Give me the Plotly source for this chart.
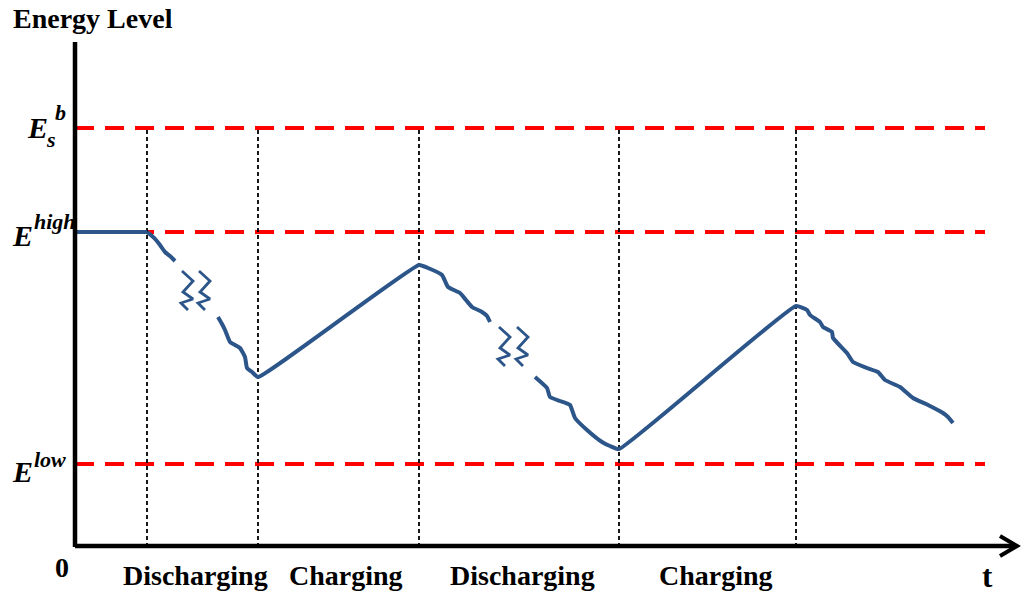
import plotly.graph_objects as go

# ---- data (abstract units: t along x, energy along y) ----
E_LOW, E_HIGH, E_SB = 83, 315, 419
levels = [E_SB, E_HIGH, E_LOW]
phase_bounds = [72, 183, 344, 544, 721]
phase_labels = ["Discharging", "Charging", "Discharging", "Charging"]
phase_label_t = [120, 271, 447, 641]

# energy trajectory, split where the broken-axis marks interrupt it
flat_t = [0, 72]
flat_e = [315, 315]
seg1_t = [72, 77, 81, 85, 90, 95, 100]
seg1_e = [315, 311, 307, 302, 295, 291, 286]
seg2_t = [143, 147, 150, 155, 160, 165, 170, 172, 177, 183, 344, 353, 367, 373, 385, 391, 397, 407, 412, 415]
seg2_e = [230, 223, 217, 205, 202, 199, 190, 179, 175, 170, 282, 279, 272, 260, 254, 247, 240, 235, 231, 225]
seg3_t = [460, 472, 475, 485, 495, 500, 512, 527, 535, 544, 721, 732, 735, 745, 748, 757, 758, 772, 778, 792,
          803, 810, 825, 838, 853, 868, 873, 878]
seg3_e = [170, 159, 150, 146, 142, 129, 117, 105, 101, 98, 241, 237, 232, 225, 220, 215, 209, 194, 185, 179,
          175, 167, 160, 149, 142, 134, 130, 124]

# break-mark zigzag template and where the marks sit
zig_dt = [0, 11, 1, 11, -1, 6]
zig_de = [0, -10, -21, -28, -32, -39]
break_t = [107, 124, 424, 442]
break_e = [276, 276, 220, 220]

# axis extents
T_MAX_AXIS = 940
E_MAX_AXIS = 505
LEVEL_T_END = 910

BLUE = "#2C5589"
RED = "#FF0000"
FONT = "Liberation Serif"

fig = go.Figure()

def line(x, y, color, width, dash="solid", shape="linear"):
    fig.add_trace(go.Scatter(x=x, y=y, mode="lines", hoverinfo="skip", showlegend=False,
                             line=dict(color=color, width=width, dash=dash, shape=shape,
                                       smoothing=0.4 if shape == "spline" else None)))

# red dashed levels
for lv in levels:
    line([0, LEVEL_T_END], [lv, lv], RED, 4, "19px,11px")

# black dotted phase boundaries
for b in phase_bounds:
    line([b, b], [0, E_SB], "black", 1.8, "4px,3px")

# energy trajectory
line(flat_t, flat_e, BLUE, 4)
for tt, ee in [(seg1_t, seg1_e), (seg2_t, seg2_e), (seg3_t, seg3_e)]:
    line(tt, ee, BLUE, 4, shape="spline")

# zigzag break marks
for bt, be in zip(break_t, break_e):
    line([bt + d for d in zig_dt], [be + d for d in zig_de], BLUE, 2.8)

# axes
line([0, 0], [0, E_MAX_AXIS], "black", 4.5)
line([0, T_MAX_AXIS], [1, 1], "black", 4.5)
line([T_MAX_AXIS - 15, T_MAX_AXIS + 2, T_MAX_AXIS - 15], [11, 1, -9], "black", 4)

ann = []
def text(x, y, s, size, xanchor="center", yanchor="middle", italic=False):
    s = f"<b>{s}</b>"
    if italic:
        s = f"<i>{s}</i>"
    ann.append(dict(x=x, y=y, xref="x", yref="y", text=s, showarrow=False,
                    xanchor=xanchor, yanchor=yanchor,
                    font=dict(family=FONT, size=size, color="black")))

text(-64, 529, "Energy Level", 28, xanchor="left")
for lbl, tx in zip(phase_labels, phase_label_t):
    text(tx, -28, lbl, 28)
text(-13, -20, "0", 28)
text(912, -29, "t", 31)

# level labels
text(-38, 420, "E", 30, italic=True)
text(-24, 408, "s", 22, italic=True)
text(-15, 435, "b", 22, italic=True)
text(-53, 312, "E", 30, italic=True)
text(-43, 326, "high", 22, xanchor="left", italic=True)
text(-53, 76, "E", 30, italic=True)
text(-43, 88, "low", 22, xanchor="left", italic=True)

fig.update_layout(
    width=1024, height=602,
    margin=dict(l=0, r=0, t=0, b=0),
    paper_bgcolor="white", plot_bgcolor="white",
    xaxis=dict(range=[-75, 949], visible=False, fixedrange=True),
    yaxis=dict(range=[-55, 547], visible=False, fixedrange=True),
    annotations=ann,
    showlegend=False,
)

fig.write_html("out.html", config={"displayModeBar": False},
               post_script="document.body.style.margin='0px';document.body.style.overflow='hidden';")
